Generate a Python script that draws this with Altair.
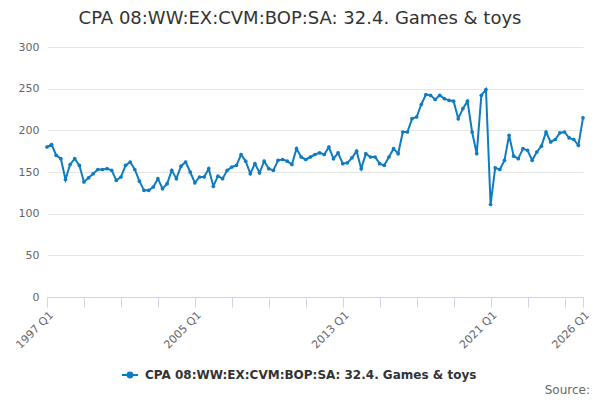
import altair as alt
import pandas as pd

BLUE = "#0f7cc1"
FONT = "DejaVu Sans"

TITLE = "CPA 08:WW:EX:CVM:BOP:SA: 32.4. Games & toys"
SERIES = "CPA 08:WW:EX:CVM:BOP:SA: 32.4. Games & toys"

quarters = [f"{y} Q{q}" for y in range(1997, 2027) for q in range(1, 5)][:117]

values = [
    180, 183, 170, 166, 141, 159, 166, 158, 138, 143, 148, 153, 153, 154, 152, 140,
    144, 158, 162, 153, 139, 128, 128, 132, 142, 130, 136, 152, 142, 157, 162, 150,
    137, 144, 144, 154, 133, 145, 142, 152, 156, 158, 171, 163, 148, 160, 149, 163,
    154, 152, 164, 165, 163, 159, 178, 168, 165, 168, 171, 173, 171, 180, 166, 173,
    160, 161, 167, 175, 154, 172, 168, 168, 160, 158, 168, 178, 172, 198, 198, 214,
    216, 231, 243, 242, 237, 242, 238, 236, 235, 214, 226, 235, 198, 172, 242, 249,
    111, 155, 153, 164, 194, 169, 166, 178, 176, 164, 174, 181, 198, 186, 189, 197,
    198, 191, 189, 182, 215,
]

tick_quarters = [f"{y} Q1" for y in range(1997, 2027, 2)] + ["2026 Q1"]
label_quarters = ["1997 Q1", "2005 Q1", "2013 Q1", "2021 Q1", "2026 Q1"]
y_ticks = [0, 50, 100, 150, 200, 250, 300]

df = pd.DataFrame({"quarter": quarters, "value": values, "series": SERIES})

label_list = ",".join(f"'{q}'" for q in label_quarters)

symbol_path = ("M-1,0L1,0M-0.3,0a0.3,0.3 0 1,0 0.6,0a0.3,0.3 0 1,0 -0.6,0Z")

line = alt.Chart(df).mark_line(
    strokeWidth=2,
    point=alt.OverlayMarkDef(size=14, filled=True, color=BLUE),
).encode(
    x=alt.X(
        "quarter:O",
        sort=None,
        scale=alt.Scale(type="point", padding=0),
        axis=alt.Axis(
            title=None,
            values=tick_quarters,
            labelExpr=f"indexof([{label_list}], datum.value) >= 0 ? datum.value : ''",
            labelAngle=315,
            labelAlign="right",
            labelBaseline="top",
            labelFont=FONT,
            labelFontSize=11,
            labelColor="#666666",
            labelPadding=2,
            domainColor="#ccd6eb",
            tickColor="#ccd6eb",
            tickSize=10,
            grid=False,
            labelOverlap=False,
        ),
    ),
    y=alt.Y(
        "value:Q",
        scale=alt.Scale(domain=[0, 300], nice=False, zero=True),
        axis=alt.Axis(
            title=None,
            values=y_ticks,
            domain=False,
            ticks=False,
            grid=True,
            gridColor="#e6e6e6",
            labelFont=FONT,
            labelFontSize=11,
            labelColor="#666666",
            labelPadding=8,
        ),
    ),
    color=alt.Color(
        "series:N",
        scale=alt.Scale(range=[BLUE]),
        legend=alt.Legend(
            title=None,
            orient="none",
            legendX=74,
            legendY=319,
            direction="horizontal",
            symbolType=symbol_path,
            symbolSize=256,
            symbolStrokeWidth=2,
            symbolStrokeColor=BLUE,
            symbolFillColor=BLUE,
            labelFont=FONT,
            labelFontSize=12,
            labelFontWeight="bold",
            labelColor="#333333",
            labelLimit=0,
            labelOffset=6,
        ),
    ),
)

source_df = pd.DataFrame({"t": ["Source:"]})
source = alt.Chart(source_df).mark_text(
    align="right", baseline="alphabetic", font=FONT, fontSize=12, color="#666666"
).encode(text="t:N", x=alt.value(543), y=alt.value(347))

chart = alt.layer(line, source).properties(
    width=536,
    height=250,
    autosize="none",
    padding={"left": 39, "top": 39, "right": 9, "bottom": 103},
    title=alt.TitleParams(
        text=TITLE,
        font=FONT,
        fontSize=18,
        fontWeight="normal",
        color="#333333",
        anchor="middle",
        dx=-15,
        offset=13,
    ),
).configure_view(stroke=None)

chart.save("out.html", embed_options={"renderer": "svg", "actions": False})
